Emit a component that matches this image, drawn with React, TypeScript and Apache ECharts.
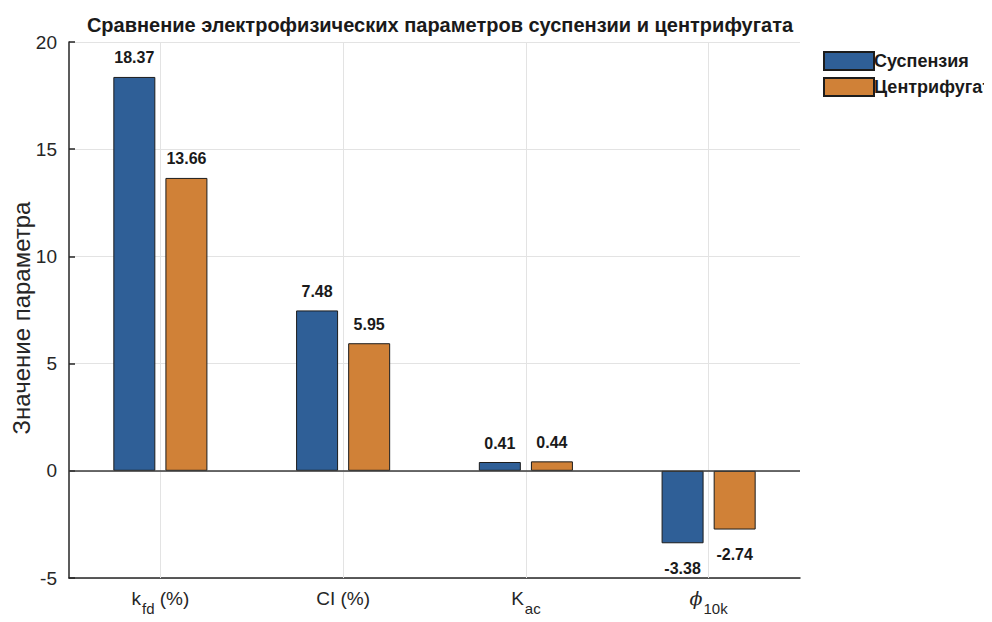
import React, { useEffect, useRef } from "react";
import * as echarts from "echarts";

const categories = ["kfd", "CI", "Kac", "phi10k"];
const categoryLabels = [
  "{n|k}{s|fd}{n| (%)}",
  "{n|CI (%)}",
  "{n|K}{s|ac}",
  "{p|ϕ}{s|10k}",
];
const suspension = [18.37, 7.48, 0.41, -3.38];
const centrifugate = [13.66, 5.95, 0.44, -2.74];
const seriesNames = ["Суспензия", "Центрифугат"];
const yTicks = { min: -5, max: 20, interval: 5 };
const titleText = "Сравнение электрофизических параметров суспензии и центрифугата";
const yName = "Значение параметра";

const FONT = "Liberation Sans, Arial, sans-serif";

function makeData(values: number[]) {
  return values.map((v) => ({
    value: v,
    label: {
      position: v < 0 ? "bottom" : "top",
      distance: v < 0 ? 17 : 11,
    },
  }));
}

export default function App() {
  const ref = useRef<HTMLDivElement>(null);
  useEffect(() => {
    if (!ref.current) return;
    const chart = echarts.init(ref.current, null, { renderer: "svg" });
    const labelStyle = {
      show: true,
      fontFamily: FONT,
      fontSize: 16,
      fontWeight: "bold",
      color: "#1a1a1a",
      formatter: (p: any) => p.value.toFixed(2),
    };
    chart.setOption({
      animation: false,
      backgroundColor: "#ffffff",
      title: {
        text: titleText,
        left: 435,
        top: 10,
        textAlign: "center",
        textStyle: {
          fontFamily: FONT,
          fontSize: 20,
          fontWeight: "bold",
          color: "#1a1a1a",
        },
      },
      legend: {
        orient: "vertical",
        left: 818,
        top: 46,
        itemWidth: 50,
        itemHeight: 18,
        itemGap: 6,
        icon: "rect",
        textStyle: {
          fontFamily: FONT,
          fontSize: 18,
          fontWeight: "bold",
          color: "#1a1a1a",
          padding: [0, 0, 0, -5],
        },
        data: seriesNames,
      },
      grid: { left: 69, right: 192, top: 42, bottom: 44, containLabel: false, outerBoundsMode: "none" },
      xAxis: {
        type: "category",
        data: categories,
        axisLine: { onZero: false, lineStyle: { color: "#262626", width: 1.5 } },
        axisTick: { alignWithLabel: true, inside: true, length: 6, lineStyle: { color: "#262626", width: 1.5 } },
        splitLine: { show: false },
        axisLabel: {
          margin: 9,
          formatter: (_v: string, i: number) => categoryLabels[i],
          rich: {
            n: { fontFamily: FONT, fontSize: 19, color: "#262626", height: 22, verticalAlign: "top" },
            p: { fontFamily: "DejaVu Serif, serif", fontStyle: "italic", fontSize: 19, color: "#262626", height: 22, verticalAlign: "top" },
            s: { fontFamily: FONT, fontSize: 15, color: "#262626", padding: [14, 0, 0, 1], verticalAlign: "top" },
          },
        },
      },
      yAxis: {
        type: "value",
        min: yTicks.min,
        max: yTicks.max,
        interval: yTicks.interval,
        name: yName,
        nameLocation: "middle",
        nameRotate: 90,
        nameGap: 36,
        nameMoveOverlap: false,
        nameTextStyle: { fontFamily: FONT, fontSize: 24, color: "#262626", padding: [0, 16, 0, 0] },
        axisLine: { show: true, lineStyle: { color: "#262626", width: 1.5 } },
        axisTick: { show: true, inside: true, length: 6, lineStyle: { color: "#262626", width: 1.5 } },
        axisLabel: { fontFamily: FONT, fontSize: 19, color: "#262626", margin: 12 },
        splitLine: { show: true, lineStyle: { color: "#e3e3e3", width: 1 } },
      },
      series: [
        {
          name: seriesNames[0],
          type: "bar",
          data: makeData(suspension),
          barWidth: 42,
          barGap: "24%",
          itemStyle: { color: "#2f5f97", borderColor: "#1c1c1c", borderWidth: 1 },
          label: labelStyle,
        },
        {
          name: seriesNames[1],
          type: "bar",
          data: makeData(centrifugate),
          barWidth: 42,
          barGap: "24%",
          itemStyle: { color: "#d08137", borderColor: "#1c1c1c", borderWidth: 1 },
          label: labelStyle,
        },
        {
          name: "grid",
          type: "line",
          data: [],
          silent: true,
          markLine: {
            silent: true,
            symbol: "none",
            label: { show: false },
            data: [
              ...categories.map((c) => ({ xAxis: c, lineStyle: { color: "#e3e3e3", width: 1, type: "solid" } })),
              { yAxis: 0, lineStyle: { color: "#3a3a3a", width: 1.5, type: "solid" } },
            ],
          },
        },
      ],
    });
    return () => chart.dispose();
  }, []);
  return <div ref={ref} style={{ width: 992, height: 622, margin: -8 }} />;
}
